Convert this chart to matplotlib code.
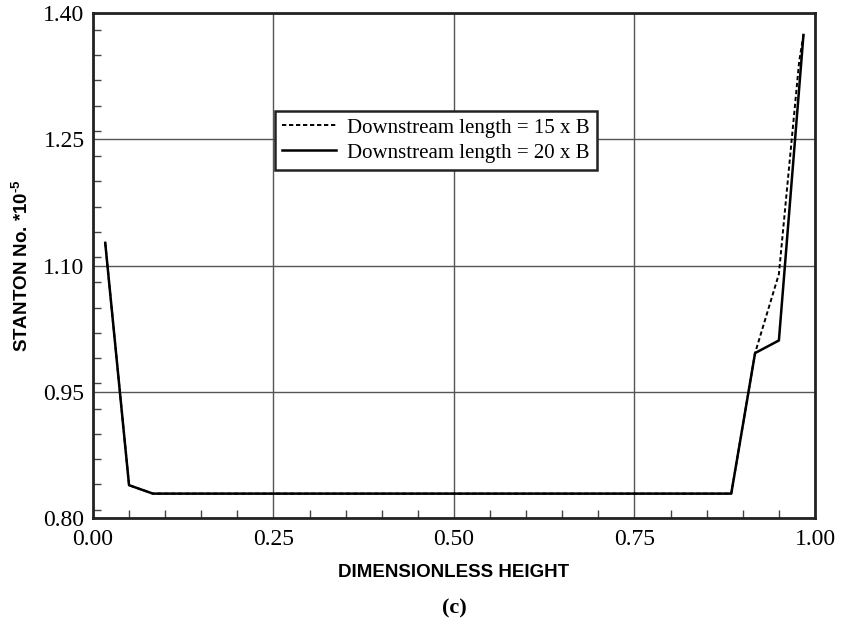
"""Stanton number profile across the channel height for two downstream lengths."""

import matplotlib

matplotlib.use("Agg")

import matplotlib.pyplot as plt
from matplotlib.ticker import MultipleLocator

# dimensionless height vs Stanton number (x 10^-5)
height_15 = [0.017, 0.050, 0.083, 0.884, 0.917, 0.950, 0.978, 0.984]
stanton_15 = [1.127, 0.839, 0.829, 0.829, 0.996, 1.090, 1.342, 1.374]

height_20 = [0.017, 0.050, 0.083, 0.884, 0.917, 0.950, 0.984]
stanton_20 = [1.127, 0.839, 0.829, 0.829, 0.996, 1.011, 1.374]

labels = ["Downstream length = 15 x B", "Downstream length = 20 x B"]

x_ticks = [0.00, 0.25, 0.50, 0.75, 1.00]
y_ticks = [0.80, 0.95, 1.10, 1.25, 1.40]

SERIF = "Liberation Serif"
SANS = "Liberation Sans"

plt.rcParams["mathtext.fontset"] = "custom"
plt.rcParams["mathtext.rm"] = "Liberation Sans:bold"
plt.rcParams["mathtext.bf"] = "Liberation Sans:bold"
plt.rcParams["mathtext.it"] = "Liberation Sans:bold"


def main() -> None:
    fig = plt.figure(figsize=(8.45, 6.23), dpi=100)
    ax = fig.add_axes([0.110, 0.1685, 0.8545, 0.8105])

    ax.plot(height_15, stanton_15, color="black", linewidth=1.4,
            linestyle=(0, (2.2, 1.4)), label=labels[0], zorder=3)
    ax.plot(height_20, stanton_20, color="black", linewidth=1.8,
            label=labels[1], zorder=4)

    ax.set_xlim(0.0, 1.0)
    ax.set_ylim(0.80, 1.40)
    ax.set_xticks(x_ticks, labels=[f"{v:.2f}" for v in x_ticks])
    ax.set_yticks(y_ticks, labels=[f"{v:.2f}" for v in y_ticks])
    ax.xaxis.set_minor_locator(MultipleLocator(0.05))
    ax.yaxis.set_minor_locator(MultipleLocator(0.03))

    ax.grid(True, which="major", color="#555555", linewidth=1.0)
    ax.set_axisbelow(True)

    ax.tick_params(which="both", direction="in", top=False, right=False,
                   color="#444444", width=1.0)
    ax.tick_params(which="major", length=0, labelsize=17)
    ax.tick_params(axis="x", which="major", pad=8)
    ax.tick_params(axis="y", which="major", pad=6)
    ax.tick_params(which="minor", length=6)
    for lbl in ax.get_xticklabels() + ax.get_yticklabels():
        lbl.set_fontfamily(SERIF)

    for spine in ax.spines.values():
        spine.set_linewidth(2.0)
        spine.set_color("#222222")

    ax.set_xlabel("DIMENSIONLESS HEIGHT", fontsize=13.5, fontweight="bold",
                  family=SANS, labelpad=10)
    ax.set_ylabel(r"STANTON No. *10$^{\text{-5}}$", fontsize=13.5,
                  fontweight="bold", family=SANS, labelpad=8)
    fig.text(0.5376, 0.008, "(c)", fontsize=16, fontweight="bold",
             family=SERIF, ha="center", va="bottom")

    leg = ax.legend(loc="center", bbox_to_anchor=(0.475, 0.748),
                    prop={"family": SERIF, "size": 15}, frameon=True,
                    fancybox=False, framealpha=1.0, edgecolor="#222222",
                    handlelength=2.6, handletextpad=0.5, borderpad=0.35,
                    labelspacing=0.25, borderaxespad=0)
    leg.get_frame().set_linewidth(1.8)

    fig.savefig("out.png", dpi=100)
    plt.close(fig)


if __name__ == "__main__":
    main()
